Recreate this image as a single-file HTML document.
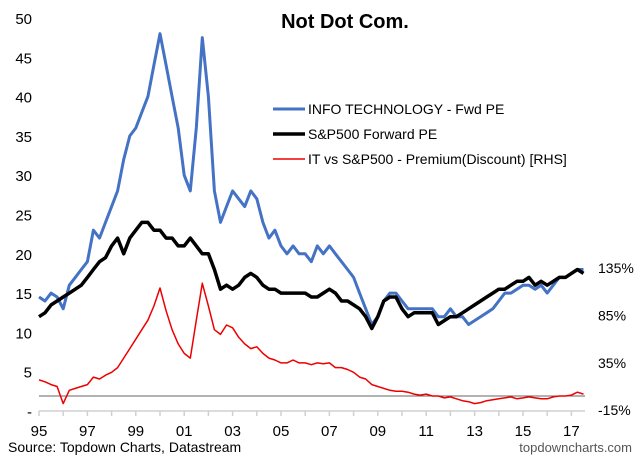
<!DOCTYPE html>
<html><head><meta charset="utf-8"><style>
body{margin:0;background:#fff;font-family:"Liberation Sans",Arial,sans-serif}
svg text{font-family:"Liberation Sans",Arial,sans-serif}
</style></head><body>
<svg id="c" width="640" height="466" xmlns="http://www.w3.org/2000/svg">
<text x="345" y="28" text-anchor="middle" font-size="20" font-weight="bold">Not Dot Com.</text>
<g id="legend">
<line x1="273" y1="109" x2="305" y2="109" stroke="#4472c4" stroke-width="3"/>
<text x="308" y="114" font-size="14">INFO TECHNOLOGY - Fwd PE</text>
<line x1="273" y1="134" x2="305" y2="134" stroke="#000" stroke-width="3.5"/>
<text x="308" y="139" font-size="14">S&amp;P500 Forward PE</text>
<line x1="273" y1="159" x2="305" y2="159" stroke="#e00" stroke-width="1.5"/>
<text x="308" y="164" font-size="14">IT vs S&amp;P500 - Premium(Discount) [RHS]</text>
</g>
<text x="8" y="452" font-size="14">Source: Topdown Charts, Datastream</text>
<text x="632" y="452" font-size="13" fill="#555" text-anchor="end">topdowncharts.com</text>
</svg>
<script>
const leftTicks=[0,5,10,15,20,25,30,35,40,45,50];
const leftTickLabels=["-","5","10","15","20","25","30","35","40","45","50"];
const rightTicks=[-15,35,85,135];
const rightTickLabels=["-15%","35%","85%","135%"];
const xTickYears=[1995,1997,1999,2001,2003,2005,2007,2009,2011,2013,2015,2017];
const xTickLabels=["95","97","99","01","03","05","07","09","11","13","15","17"];
const startYear=1995;
const stepYears=0.25;
const itPE=[14.5,14,15,14.5,13,16,17,18,19,23,22,24,26,28,32,35,36,38,40,44,48,44,40,36,30,28,36,47.5,40,28,24,26,28,27,26,28,27,24,22,23,21,20,21,20,20,19,21,20,21,20,19,18,17,15,13,11,12,14,15,15,14,13,13,13,13,13,12,12,13,12,12,11,11.5,12,12.5,13,14,15,15,15.5,16,16,15.5,16,15,16,17,17,17.5,18,18];
const spPE=[12,12.5,13.5,14,14.5,15,15.5,16,17,18,19,19.5,21,22,20,22,23,24,24,23,23,22,22,21,21,22,21,20,20,18,15.5,16,15.5,16,17,17.5,17,16,15.5,15.5,15,15,15,15,15,14.5,14.5,15,15.5,15,14,14,13.5,13,12,10.5,12,14,14.5,14.5,13,12,12.5,12.5,12.5,12.5,11,11.5,12,12,12.5,13,13.5,14,14.5,15,15.5,15.5,16,16.5,16.5,17,16,16.5,16,16.5,17,17,17.5,18,17.5];
const premium=[17,15,12,10,-8,6,8,10,12,20,18,22,25,30,40,50,60,70,80,95,114,90,70,55,45,40,80,119,95,70,65,75,72,62,55,50,52,45,40,38,35,35,38,35,35,33,35,34,35,30,30,28,25,20,18,12,10,8,6,5,5,4,2,1,2,0,0,-2,-1,-3,-5,-6,-8,-7,-5,-4,-3,-2,-1,-3,-2,-1,-2,-3,-3,-1,0,0,1,4,2];

const svg=document.getElementById('c');
const NS='http://www.w3.org/2000/svg';
function xS(yr){return 39+(yr-1995)*24.2;}
function yL(v){return 411-v*7.86;}
function yR(p){return 396-p*0.947;}
function mk(tag,attrs){const e=document.createElementNS(NS,tag);for(const k in attrs)e.setAttribute(k,attrs[k]);svg.appendChild(e);return e;}

leftTicks.forEach((v,i)=>{
  const t=mk('text',{x:32,y:yL(v)+6,'font-size':15,'text-anchor':'end'});
  
  
  t.textContent=leftTickLabels[i];
});
rightTicks.forEach((v,i)=>{
  const t=mk('text',{x:598,y:yR(v)+5,'font-size':14});
  
  
  t.textContent=rightTickLabels[i];
});
const ax=mk('line',{x1:39,y1:411,x2:585,y2:411,stroke:'#d0d0d0','stroke-width':1.5});


for(let y=1995;y<=2017;y++){
  const tk=mk('line',{x1:xS(y),y1:411,x2:xS(y),y2:416,stroke:'#d0d0d0','stroke-width':1.5});
  
  
}
xTickYears.forEach((y,i)=>{
  const t=mk('text',{x:xS(y),y:436,'font-size':15,'text-anchor':'middle'});
  
  
  t.textContent=xTickLabels[i];
});
const zl=mk('line',{x1:39,y1:yR(0),x2:585,y2:yR(0),stroke:'#666','stroke-width':1});



function path(arr,yf){return arr.map((v,i)=>(i?'L':'M')+xS(startYear+i*stepYears).toFixed(1)+','+yf(v).toFixed(1)).join('');}
const pr=mk('path',{d:path(premium,yR),fill:'none',stroke:'#e00','stroke-width':1.5,'stroke-linejoin':'round'});


const it=mk('path',{d:path(itPE,yL),fill:'none',stroke:'#4472c4','stroke-width':3,'stroke-linejoin':'round'});


const sp=mk('path',{d:path(spPE,yL),fill:'none',stroke:'#000','stroke-width':3.5,'stroke-linejoin':'round'});


</script>
</body></html>
